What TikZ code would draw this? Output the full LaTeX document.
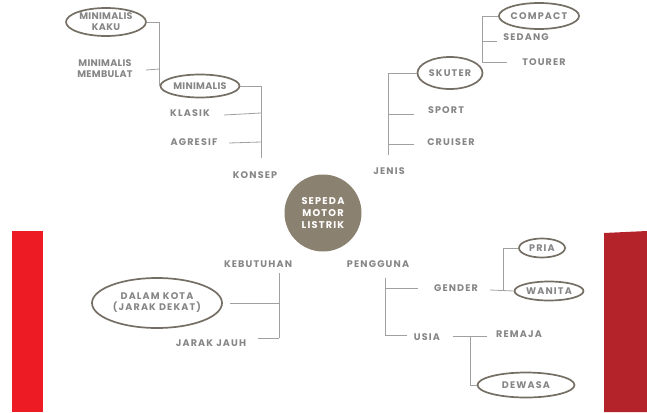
\documentclass[tikz,border=0pt]{standalone}
\usepackage{fontspec}
\setmainfont{Poppins Bold}[LetterSpace=12]
\usetikzlibrary{shapes.geometric}
\definecolor{txtgray}{HTML}{868686}
\definecolor{ovalc}{HTML}{756E64}
\definecolor{linec}{HTML}{A0A0A0}
\definecolor{circc}{HTML}{8B8171}
\definecolor{redL}{HTML}{ED1C24}
\definecolor{redR}{HTML}{B5232A}
\begin{document}
\begin{tikzpicture}[x=1pt,y=-1pt,
  lbl/.style={font=\fontsize{9.6}{11}\selectfont, text=txtgray, inner sep=0pt, align=center},
  tight/.style={font=\fontsize{9.6}{11}\selectfont\addfontfeature{LetterSpace=3}},
  oval/.style={lbl, ellipse, draw=ovalc, line width=1.7pt, inner sep=0pt},
  link/.style={draw=linec, line width=0.8pt}]
\useasboundingbox (0,0) rectangle (647,412);
% red bars
\fill[redL] (12,231) rectangle (43,412);
\fill[redR] (604,233) -- (647,231) -- (647,412) -- (604,412) -- cycle;
% centre
\node[circle, fill=circc, minimum size=77pt, inner sep=0pt, text=white, align=center,
  font=\fontsize{9.8}{11.6}\selectfont] (center) at (323,213) {SEPEDA\\MOTOR\\LISTRIK};
% top-left: KONSEP
\node[oval, tight, minimum width=80pt, minimum height=28pt] (mkaku) at (106,22) {MINIMALIS\\KAKU};
\node[lbl, tight] (mmembulat) at (105,69) {MINIMALIS\\MEMBULAT};
\node[oval, tight, minimum width=79pt, minimum height=23pt] (minimalis) at (200,86) {MINIMALIS};
\node[lbl] (klasik) at (190,113) {KLASIK};
\node[lbl] (agresif) at (194,142) {AGRESIF};
\node[lbl] (konsep) at (255,175) {KONSEP};
\coordinate (kv) at (261,158);
\draw[link] (mkaku.east) -| (minimalis.west);
\draw[link] (146,70) -- (mmembulat.east -| minimalis.west);
\draw[link] (minimalis.east) -| (kv);
\draw[link] (224,115) -- (klasik.east -| kv);
\draw[link] (229,143) -- (agresif.east -| kv);
% top-right: JENIS
\node[oval, minimum width=68pt, minimum height=26pt] (compact) at (539,16) {COMPACT};
\node[lbl] (sedang) at (526,37) {SEDANG};
\node[lbl] (tourer) at (544,62) {TOURER};
\node[oval, minimum width=65pt, minimum height=32pt] (skuter) at (450,73) {SKUTER};
\node[lbl] (sport) at (446,110) {SPORT};
\node[lbl] (cruiser) at (451,142) {CRUISER};
\node[lbl] (jenis) at (389,171) {JENIS};
\coordinate (sv) at (482,63);
\coordinate (jv) at (388,155);
\draw[link] (compact.west) -| (sv);
\draw[link] (sv |- 0,41) -- (497,41);
\draw[link] (sv |- tourer.east) -- (507,62);
\draw[link] (skuter.west) -| (jv);
\draw[link] (jv |- 0,114) -- (414,114);
\draw[link] (jv |- 0,144) -- (414,144);
% bottom-left: KEBUTUHAN
\node[lbl] (kebutuhan) at (258,264) {KEBUTUHAN};
\node[oval, minimum width=130pt, minimum height=50pt] (dalam) at (157,303) {DALAM KOTA\\(JARAK DEKAT)};
\node[lbl] (jarakjauh) at (211,343) {JARAK JAUH};
\coordinate (kt) at (279,273);
\coordinate (kb) at (279,338);
\draw[link] (kt) -- (kb);
\draw[link] ([xshift=7pt]dalam.east) -- (dalam.east -| kt);
\draw[link] (258,338) -- (kb);
% bottom-right: PENGGUNA
\node[lbl] (pengguna) at (378,264) {PENGGUNA};
\node[lbl] (gender) at (456,288) {GENDER};
\node[lbl] (usia) at (427,337) {USIA};
\node[lbl] (remaja) at (519,334) {REMAJA};
\node[oval, minimum width=46pt, minimum height=19pt] (pria) at (542,248) {PRIA};
\node[oval, minimum width=69pt, minimum height=19pt] (wanita) at (549,291) {WANITA};
\node[oval, minimum width=97pt, minimum height=25pt] (dewasa) at (526,385) {DEWASA};
\coordinate (pt) at (385,278);
\coordinate (pb) at (385,335);
\coordinate (gj) at (503,290);
\coordinate (uj) at (470,336);
\draw[link] (pt) -- (pb) -- (407,335);
\draw[link] (pt |- gender.west) -- (418,288);
\draw[link] (490,290) -- (wanita.west);
\draw[link] (gj) |- (pria.west);
\draw[link] (453,336) -- (487,336);
\draw[link] (uj) |- (dewasa.west);
\end{tikzpicture}
\end{document}
